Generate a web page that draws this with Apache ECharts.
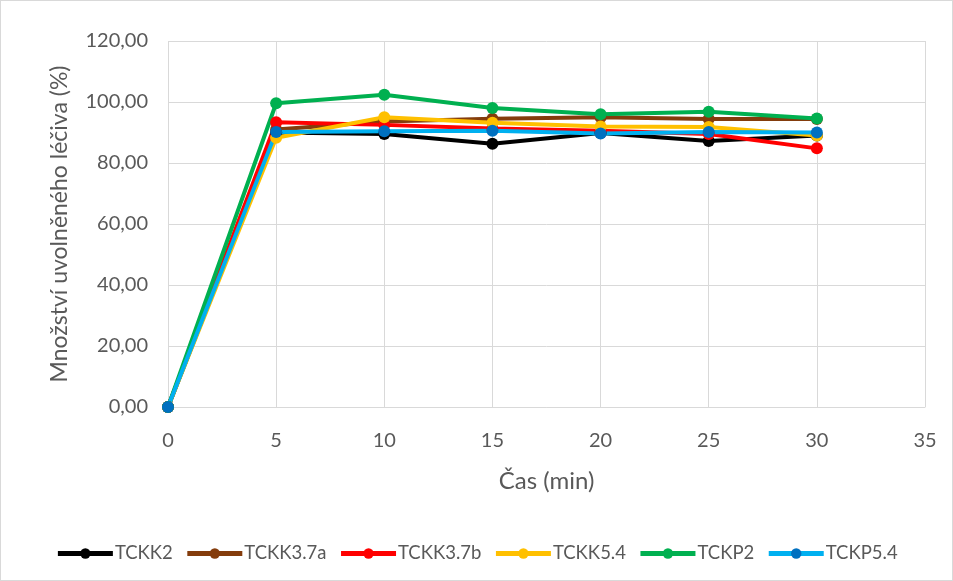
<!DOCTYPE html>
<html>
<head>
<meta charset="utf-8">
<script src="https://cdn.jsdelivr.net/npm/echarts@6/dist/echarts.min.js"></script>
<style>
  html, body { margin: 0; padding: 0; background: #fff; }
  #chart { width: 953px; height: 581px; box-sizing: border-box; border: 1px solid #d9d9d9; }
</style>
</head>
<body>
<div id="chart"></div>
<script>
// Time points (min)
const times = [0, 5, 10, 15, 20, 25, 30];

// Released drug amount (%) per formulation
const seriesNames = ['TCKK2', 'TCKK3.7a', 'TCKK3.7b', 'TCKK5.4', 'TCKP2', 'TCKP5.4'];
const tckk2   = [0, 90.0, 89.5, 86.3, 89.8, 87.2, 89.0];
const tckk37a = [0, 91.0, 93.6, 94.5, 95.0, 94.4, 94.4];
const tckk37b = [0, 93.4, 92.5, 91.3, 90.6, 89.5, 84.8];
const tckk54  = [0, 88.3, 95.0, 93.2, 92.0, 91.8, 89.0];
const tckp2   = [0, 99.6, 102.4, 98.0, 96.0, 96.8, 94.6];
const tckp54  = [0, 90.2, 90.4, 90.6, 89.7, 90.2, 90.0];

const lineColors   = ['#000000', '#843C0C', '#FF0000', '#FFC000', '#00B050', '#00B0F0'];
const markerColors = ['#000000', '#843C0C', '#FF0000', '#FFC000', '#00B050', '#0070C0'];
const allValues = [tckk2, tckk37a, tckk37b, tckk54, tckp2, tckp54];

const fontFamily = 'Lato, "Open Sans", sans-serif';
const textColor = '#595959';

const chart = echarts.init(document.getElementById('chart'), null, { renderer: 'canvas' });

const series = seriesNames.map((name, i) => ({
  name: name,
  type: 'line',
  data: times.map((t, j) => [t, allValues[i][j]]),
  symbol: 'circle',
  symbolSize: 12,
  lineStyle: { color: lineColors[i], width: 4 },
  itemStyle: { color: markerColors[i] },
  emphasis: { disabled: true },
  animation: false
}));

chart.setOption({
  animation: false,
  grid: { left: 167, right: 27, top: 40, bottom: 173 },
  xAxis: {
    type: 'value',
    min: 0, max: 35, interval: 5,
    name: 'Čas (min)',
    nameLocation: 'middle',
    nameGap: 62,
    nameTextStyle: { fontFamily: fontFamily, fontSize: 24, color: textColor },
    axisLine: { show: true, lineStyle: { color: '#d9d9d9', width: 1 } },
    axisTick: { show: false },
    axisLabel: { fontFamily: fontFamily, fontSize: 20, color: textColor, margin: 24 },
    splitLine: { show: true, lineStyle: { color: '#d9d9d9', width: 1 } }
  },
  yAxis: {
    type: 'value',
    min: 0, max: 120, interval: 20,
    name: 'Množství uvolněného léčiva (%)',
    nameLocation: 'middle',
    nameGap: 97,
    nameRotate: 90,
    nameTextStyle: { fontFamily: fontFamily, fontSize: 23, color: textColor },
    axisLine: { show: false },
    axisTick: { show: false },
    axisLabel: {
      fontFamily: fontFamily, fontSize: 20, color: textColor, margin: 20,
      formatter: v => v.toFixed(2).replace('.', ',')
    },
    splitLine: { show: true, lineStyle: { color: '#d9d9d9', width: 1 } }
  },
  legend: {
    data: seriesNames,
    left: 'center',
    top: 538,
    itemWidth: 55,
    itemHeight: 13,
    itemGap: 12,
    lineStyle: { width: 5 },
    textStyle: { fontFamily: fontFamily, fontSize: 18.5, color: textColor, padding: [0, 0, 0, -3] },
    selectedMode: false
  },
  series: series
});
</script>
</body>
</html>
